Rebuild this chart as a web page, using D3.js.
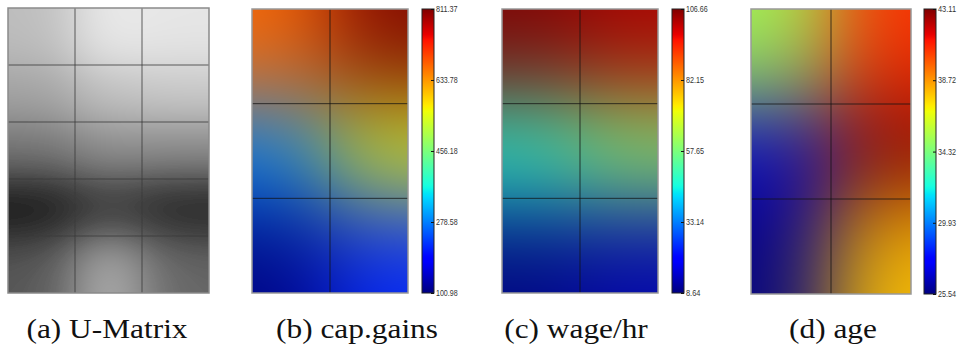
<!DOCTYPE html>
<html>
<head>
<meta charset="utf-8">
<script src="https://cdn.jsdelivr.net/npm/d3@7"></script>
<style>
  body { margin: 0; background: #fff; }
  svg { display: block; }
</style>
</head>
<body>
<script>
// U-matrix of the 2x3 SOM (5 rows x 3 cols), gray level
const uMatrix = [
  [0.74, 0.92, 0.90],
  [0.64, 0.76, 0.79],
  [0.46, 0.56, 0.55],
  [0.08, 0.22, 0.13],
  [0.34, 0.70, 0.40]
];

// component planes, 3 rows x 2 cols
const capGains = [
  [668, 811.37],
  [290, 540],
  [100.98, 215]
];
const capGainsTicks = [100.98, 278.58, 456.18, 633.78, 811.37];

const wageHr = [
  [106.66, 103],
  [47.8, 59.6],
  [8.64, 12.6]
];
const wageHrTicks = [8.64, 33.14, 57.65, 82.15, 106.66];

const age = [
  [35.2, 40.65],
  [26.8, 43.11],
  [25.54, 37.84]
];
const ageTicks = [25.54, 29.93, 34.32, 38.72, 43.11];

const captions = ["(a) U-Matrix", "(b) cap.gains", "(c) wage/hr", "(d) age"];

const width = 960, height = 346;

// matplotlib "jet"
const jetR = d3.scaleLinear().domain([0, 0.35, 0.66, 0.89, 1]).range([0, 0, 1, 1, 0.5]).clamp(true);
const jetG = d3.scaleLinear().domain([0, 0.125, 0.375, 0.64, 0.91, 1]).range([0, 0, 1, 1, 0, 0]).clamp(true);
const jetB = d3.scaleLinear().domain([0, 0.11, 0.34, 0.65, 1]).range([0.5, 1, 1, 0, 0]).clamp(true);
const jet = t => d3.rgb(jetR(t) * 255, jetG(t) * 255, jetB(t) * 255);

const svg = d3.select("body").append("svg")
  .attr("width", width)
  .attr("height", height);

const defs = svg.append("defs");
defs.append("filter").attr("id", "soft")
  .attr("x", "-5%").attr("y", "-5%").attr("width", "110%").attr("height", "110%")
  .append("feGaussianBlur").attr("stdDeviation", 0.7);

// smooth field: each node sits in the centre of its cell, colours blended in rgb
function drawField(g, grid, color, box, sigma) {
  const rows = grid.length, cols = grid[0].length;
  const w = Math.round(box.x1 - box.x0), h = Math.round(box.y1 - box.y0);
  const x = d3.scaleLinear().domain([0, cols]).range([box.x0, box.x1]);
  const y = d3.scaleLinear().domain([0, rows]).range([box.y0, box.y1]);

  const nodes = [];
  grid.forEach((row, j) => row.forEach((v, i) => {
    nodes.push({ i: i + 0.5, j: j + 0.5, c: d3.rgb(color(v)) });
  }));

  const canvas = document.createElement("canvas");
  canvas.width = w; canvas.height = h;
  const ctx = canvas.getContext("2d");
  const img = ctx.createImageData(w, h);
  const s2 = 2 * sigma * sigma;
  for (let py = 0; py < h; py++) {
    const v = y.invert(box.y0 + py + 0.5);
    for (let px = 0; px < w; px++) {
      const u = x.invert(box.x0 + px + 0.5);
      let r = 0, gg = 0, b = 0, ws = 0;
      nodes.forEach(n => {
        const wt = Math.exp(-((u - n.i) ** 2 + (v - n.j) ** 2) / s2);
        r += wt * n.c.r; gg += wt * n.c.g; b += wt * n.c.b; ws += wt;
      });
      const k = (py * w + px) * 4;
      img.data[k] = r / ws; img.data[k + 1] = gg / ws; img.data[k + 2] = b / ws; img.data[k + 3] = 255;
    }
  }
  ctx.putImageData(img, 0, 0);

  g.append("image")
    .attr("x", box.x0).attr("y", box.y0)
    .attr("width", w).attr("height", h)
    .attr("preserveAspectRatio", "none")
    .attr("href", canvas.toDataURL());

  return { x, y, rows, cols };
}

function drawGrid(g, sc, box, lineColor, lineWidth, lineOpacity, frameColor, frameWidth) {
  g.selectAll("line.gv").data(d3.range(1, sc.cols)).join("line")
    .attr("class", "gv")
    .attr("x1", d => sc.x(d)).attr("x2", d => sc.x(d))
    .attr("y1", box.y0).attr("y2", box.y1)
    .attr("stroke", lineColor).attr("stroke-width", lineWidth).attr("stroke-opacity", lineOpacity);
  g.selectAll("line.gh").data(d3.range(1, sc.rows)).join("line")
    .attr("class", "gh")
    .attr("y1", d => sc.y(d)).attr("y2", d => sc.y(d))
    .attr("x1", box.x0).attr("x2", box.x1)
    .attr("stroke", lineColor).attr("stroke-width", lineWidth).attr("stroke-opacity", lineOpacity);
  g.append("rect")
    .attr("x", box.x0).attr("y", box.y0)
    .attr("width", box.x1 - box.x0).attr("height", box.y1 - box.y0)
    .attr("fill", "none").attr("stroke", frameColor).attr("stroke-width", frameWidth);
}

function drawColorbar(g, id, ticks, bar) {
  const grad = defs.append("linearGradient").attr("id", id)
    .attr("x1", 0).attr("y1", 1).attr("x2", 0).attr("y2", 0);
  grad.selectAll("stop").data(d3.range(0, 1.0001, 0.01)).join("stop")
    .attr("offset", d => d)
    .attr("stop-color", d => jet(d).formatHex());

  g.append("rect")
    .attr("x", bar.x0).attr("y", bar.y0)
    .attr("width", bar.x1 - bar.x0).attr("height", bar.y1 - bar.y0)
    .attr("fill", `url(#${id})`)
    .attr("stroke", "#222").attr("stroke-width", 1);

  const cy = d3.scaleLinear().domain([ticks[0], ticks[ticks.length - 1]]).range([bar.y1, bar.y0]);
  const fmt = d3.format(".2f");
  const axis = d3.axisRight(cy).tickValues(ticks).tickFormat(fmt)
    .tickSize(-3).tickPadding(2);
  const ag = g.append("g").attr("transform", `translate(${bar.x1},0)`).call(axis);
  ag.select(".domain").remove();
  ag.selectAll(".tick line").attr("stroke", "#111");
  ag.selectAll(".tick text")
    .attr("fill", "#333")
    .attr("textLength", d => fmt(d).length * 3.6)
    .attr("lengthAdjust", "spacingAndGlyphs")
    .style("font-family", "'Liberation Sans', Arial, sans-serif")
    .style("font-size", "8.5px");
}

// (a) U-matrix
const boxA = { x0: 8, x1: 209, y0: 8, y1: 293 };
const gA = svg.append("g").attr("filter", "url(#soft)");
const gray = d3.scaleLinear().domain([0, 1]).range(["#000", "#fff"]);
const scA = drawField(gA, uMatrix, gray, boxA, 0.5);
drawGrid(gA, scA, boxA, "#3a3a3a", 2, 0.4, "#8a8a8a", 1.5);

// component planes
const panels = [
  { id: "cbB", data: capGains, ticks: capGainsTicks,
    box: { x0: 252, x1: 408, y0: 9, y1: 293 }, bar: { x0: 422, x1: 434, y0: 9, y1: 293 } },
  { id: "cbC", data: wageHr, ticks: wageHrTicks,
    box: { x0: 502, x1: 658, y0: 9, y1: 293 }, bar: { x0: 672, x1: 684, y0: 9, y1: 293 } },
  { id: "cbD", data: age, ticks: ageTicks,
    box: { x0: 751, x1: 911, y0: 9, y1: 294 }, bar: { x0: 924, x1: 936, y0: 9, y1: 294 } }
];

panels.forEach(p => {
  const g = svg.append("g");
  const lo = p.ticks[0], hi = p.ticks[p.ticks.length - 1];
  const color = v => jet((v - lo) / (hi - lo));
  const sc = drawField(g, p.data, color, p.box, 0.6);
  drawGrid(g, sc, p.box, "#111", 1, 0.75, "#999", 1.5);
  drawColorbar(g, p.id, p.ticks, p.bar);
});

// captions
const captionX = [107, 357, 576, 833];
svg.selectAll("text.caption").data(captions).join("text")
  .attr("class", "caption")
  .attr("transform", (d, i) => `translate(${captionX[i]},338) scale(1.12,1)`)
  .attr("text-anchor", "middle")
  .style("font-family", "'Liberation Serif', 'DejaVu Serif', serif")
  .style("font-size", "28px")
  .attr("fill", "#111")
  .text(d => d);
</script>
</body>
</html>
